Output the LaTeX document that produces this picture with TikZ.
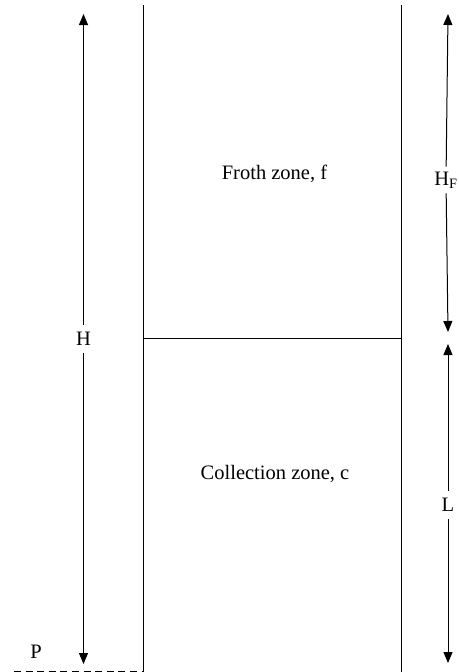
\documentclass[tikz,border=0pt]{standalone}
\usepackage{fontspec}
\setmainfont{Liberation Serif}
\usetikzlibrary{arrows.meta}
\begin{document}
\begin{tikzpicture}[x=1pt,y=-1pt,
  wall/.style={line width=1pt},
  dimline/.style={line width=1pt,-{Triangle[width=9pt,length=11pt]}},
  lbl/.style={font=\fontsize{20.5}{24}\selectfont, inner sep=0pt},
  dimlbl/.style={font=\fontsize{20.5}{24}\selectfont, fill=white, inner sep=7pt}]
\useasboundingbox (0,0) rectangle (458,672);
% column walls
\coordinate (LT) at (143.5,5);
\coordinate (LB) at (143.5,671);
\coordinate (RT) at (401.5,5);
\coordinate (RB) at (401.5,672);
\coordinate (ML) at (143.5,338.5);
\coordinate (MR) at (401.5,338.5);
\coordinate (PL) at (14,671);
\draw[wall] (LT) -- (LB);
\draw[wall] (RT) -- (RB);
\draw[wall] (ML) -- (MR);
\draw[line width=1pt, dash pattern=on 7pt off 4.6pt] (PL) -- (LB);
% zone labels
\node[lbl] (froth) at (274.5,174) {Froth zone, f};
\node[lbl] (coll) at (275,474) {Collection zone, c};
\node[lbl] (P) at (36,652) {P};
% H dimension
\coordinate (Htop) at (83.5,14);
\coordinate (Hbot) at (83.5,664);
\node[dimlbl] (H) at (83.5,339) {H};
\draw[dimline] (H) -- (Htop);
\draw[dimline] (H) -- (Hbot);
% HF dimension
\coordinate (HFtop) at (448,14);
\coordinate (HFbot) at (448,332);
\node[dimlbl, inner sep=5pt] (HF) at (446,180) {H\textsubscript{F}};
\draw[dimline] (HF) -- (HFtop);
\draw[dimline] (HF) -- (HFbot);
% L dimension
\coordinate (Ltop) at (448,344);
\coordinate (Lbot) at (448,663);
\node[dimlbl] (L) at (448,505) {L};
\draw[dimline] (L) -- (Ltop);
\draw[dimline] (L) -- (Lbot);
\end{tikzpicture}
\end{document}
